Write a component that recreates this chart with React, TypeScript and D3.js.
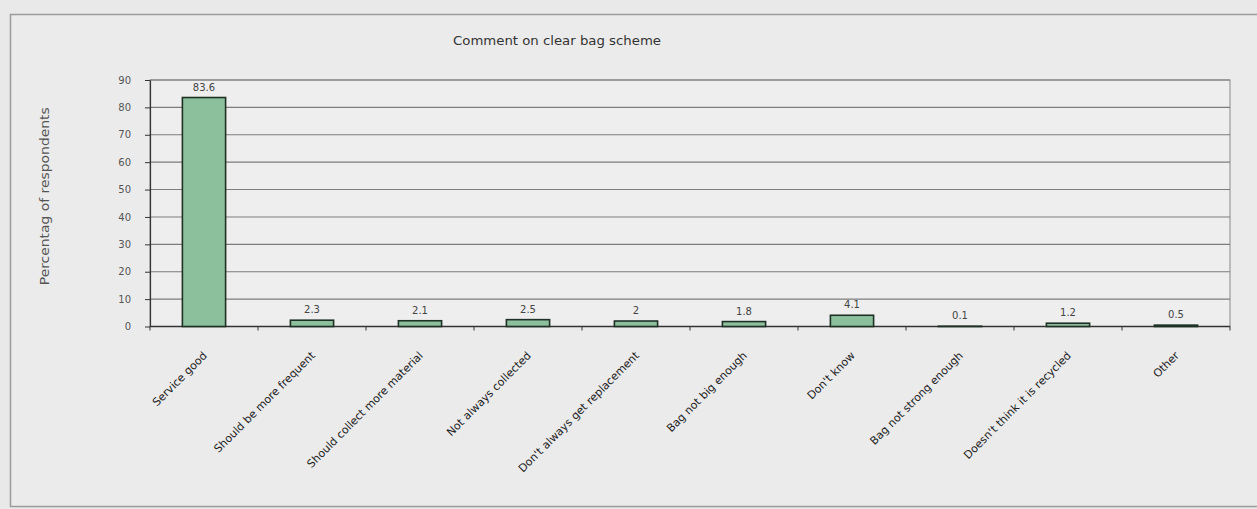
import React, { useEffect, useRef } from "react";
import * as d3 from "d3";

// Chart data
const categories = [
  "Service good",
  "Should be more frequent",
  "Should collect more material",
  "Not always collected",
  "Don't always get replacement",
  "Bag not big enough",
  "Don't know",
  "Bag not strong enough",
  "Doesn't think it is recycled",
  "Other",
];
const percentages = [83.6, 2.3, 2.1, 2.5, 2, 1.8, 4.1, 0.1, 1.2, 0.5];
const yTicks = [0, 10, 20, 30, 40, 50, 60, 70, 80, 90];

const chartTitle = "Comment on clear bag scheme";
const yTitle = "Percentag of respondents";

const drawChart = (node: SVGSVGElement) => {
  const currentWidth = 1257;
  const currentHeight = 509;

  //plot area inside the picture
  const plot = { left: 150, right: 1230, top: 80, bottom: 326.5 };
  const font = "'DejaVu Sans', Verdana, sans-serif";

  const svg = d3
    .select(node)
    .attr("width", currentWidth)
    .attr("height", currentHeight);
  svg.selectAll("*").remove();

  //scanned page background
  svg
    .append("rect")
    .attr("width", currentWidth)
    .attr("height", currentHeight)
    .attr("fill", "#e9e9e9");

  //outer frame of the figure
  svg
    .append("rect")
    .attr("x", 10.5)
    .attr("y", 14.5)
    .attr("width", 1270)
    .attr("height", 492)
    .attr("fill", "#ebebeb")
    .attr("stroke", "#9c9c9c")
    .attr("stroke-width", 1.5);

  const xScale = d3
    .scaleBand<string>()
    .domain(categories)
    .range([plot.left, plot.right])
    .paddingInner(0.6)
    .paddingOuter(0.3);
  const yScale = d3.scaleLinear().domain([0, 90]).range([plot.bottom, plot.top]);

  //plot area
  svg
    .append("rect")
    .attr("x", plot.left)
    .attr("y", plot.top)
    .attr("width", plot.right - plot.left)
    .attr("height", plot.bottom - plot.top)
    .attr("fill", "#eeeeee")
    .attr("stroke", "#8a8a8a")
    .attr("stroke-width", 1);

  //horizontal gridlines
  svg
    .append("g")
    .selectAll("line")
    .data(yTicks.filter((t) => t > 0))
    .join("line")
    .attr("x1", plot.left)
    .attr("x2", plot.right)
    .attr("y1", (d) => yScale(d))
    .attr("y2", (d) => yScale(d))
    .attr("stroke", "#7c7c7c")
    .attr("stroke-width", 1.1);

  //Y axis
  const yAxis = svg
    .append("g")
    .attr("transform", `translate(${plot.left},0)`)
    .call(
      d3
        .axisLeft(yScale)
        .tickValues(yTicks)
        .tickSizeInner(5)
        .tickSizeOuter(0)
        .tickPadding(14)
    );
  yAxis.select(".domain").attr("stroke", "#333").attr("stroke-width", 1.2);
  yAxis.selectAll(".tick line").attr("stroke", "#333");
  yAxis
    .selectAll(".tick text")
    .attr("fill", "#555")
    .attr("font-family", font)
    .attr("font-size", 10);

  //X axis with ticks between the categories
  const step = xScale.step();
  const boundaries = categories
    .map((c) => (xScale(c) as number) + xScale.bandwidth() / 2 - step / 2)
    .concat([plot.right]);
  svg
    .append("line")
    .attr("x1", plot.left)
    .attr("x2", plot.right)
    .attr("y1", plot.bottom)
    .attr("y2", plot.bottom)
    .attr("stroke", "#333")
    .attr("stroke-width", 1.3);
  svg
    .append("g")
    .selectAll("line")
    .data(boundaries)
    .join("line")
    .attr("x1", (d) => d)
    .attr("x2", (d) => d)
    .attr("y1", plot.bottom)
    .attr("y2", plot.bottom + 4)
    .attr("stroke", "#333");

  //bars
  svg
    .append("g")
    .selectAll("rect")
    .data(percentages)
    .join("rect")
    .attr("x", (d, i) => xScale(categories[i]) as number)
    .attr("y", (d) => yScale(d))
    .attr("width", xScale.bandwidth())
    .attr("height", (d) => plot.bottom - yScale(d))
    .attr("fill", "#8cbf9c")
    .attr("stroke", "#1e3127")
    .attr("stroke-width", 1.6);

  //value labels
  svg
    .append("g")
    .selectAll("text")
    .data(percentages)
    .join("text")
    .attr("x", (d, i) => (xScale(categories[i]) as number) + xScale.bandwidth() / 2)
    .attr("y", (d) => yScale(d) - 7)
    .attr("text-anchor", "middle")
    .attr("font-family", font)
    .attr("font-size", 10)
    .attr("fill", "#444")
    .text((d) => String(d));

  //rotated category labels
  svg
    .append("g")
    .selectAll("text")
    .data(categories)
    .join("text")
    .attr(
      "transform",
      (d) => `translate(${(xScale(d) as number) + xScale.bandwidth() / 2 + 1},${plot.bottom + 27}) rotate(-45)`
    )
    .attr("text-anchor", "end")
    .attr("dy", "0.35em")
    .attr("font-family", font)
    .attr("font-size", 11)
    .attr("fill", "#222")
    .text((d) => d);

  //title
  svg
    .append("text")
    .attr("x", 453)
    .attr("y", 45)
    .attr("font-family", font)
    .attr("font-size", 11.5)
    .attr("textLength", 208)
    .attr("lengthAdjust", "spacingAndGlyphs")
    .attr("fill", "#333")
    .text(chartTitle);

  //Y axis title
  svg
    .append("text")
    .attr("transform", `translate(49,${(plot.top + plot.bottom) / 2 - 7}) rotate(-90)`)
    .attr("text-anchor", "middle")
    .attr("font-family", font)
    .attr("font-size", 12)
    .attr("textLength", 178)
    .attr("lengthAdjust", "spacingAndGlyphs")
    .attr("fill", "#555")
    .text(yTitle);
};

export default function App() {
  const ref = useRef<SVGSVGElement>(null);

  useEffect(() => {
    if (ref.current) drawChart(ref.current);
  }, []);

  return (
    <svg
      ref={ref}
      style={{ position: "absolute", left: 0, top: 0, display: "block" }}
      width={1257}
      height={509}
    />
  );
}
